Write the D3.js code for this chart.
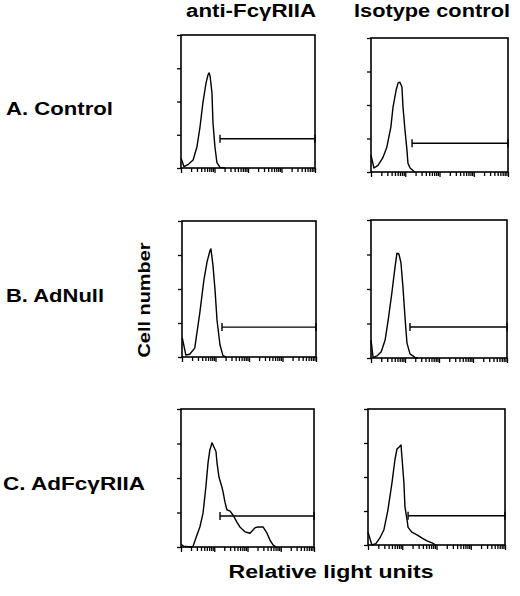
<!DOCTYPE html>
<html>
<head>
<meta charset="utf-8">
<script src="https://cdn.jsdelivr.net/npm/d3@7"></script>
<style>
  html, body { margin: 0; padding: 0; background: #fff; }
  svg { display: block; }
  text { font-family: "Liberation Sans", Arial, sans-serif; font-weight: bold; fill: #000; }
</style>
</head>
<body>
<svg id="chart" width="520" height="596"></svg>
<script>
// ---------------- DATA ----------------
const columnTitles = ["anti-Fc\u03B3RIIA", "Isotype control"];
const rowLabels = ["A. Control", "B. AdNull", "C. AdFc\u03B3RIIA"];
const yAxisTitle = "Cell number";
const xAxisTitle = "Relative light units";
const countTicks = [0, 50, 100, 150, 200];
const rluDomain = [1, 10000];
const countDomain = [0, 200];

// histograms: [relative light units, cell count]
const controlAnti = [[1,15],[1.23,2],[1.6,5],[2.3,12],[3.0,32],[3.7,62],[4.5,98],[5.6,128],[6.4,140],[6.9,143],[7.4,138],[8.4,113],[9.0,68],[10.3,32],[11.8,8],[14.6,1],[20.6,0]];
const controlIso = [[1,25],[1.22,6],[1.6,10],[2.2,21],[2.9,37],[3.8,67],[4.4,97],[5.4,122],[6.2,133],[7.0,134],[8.0,127],[8.6,97],[9.8,63],[11.2,33],[12,13],[13.8,6],[19,0]];
const adNullAnti = [[1.02,28],[1.3,3],[1.7,4],[2.4,13],[3.4,65],[4.5,113],[5.6,140],[6.9,157],[7.3,159],[8.4,135],[9.7,98],[11.1,54],[13.6,18],[16.7,2],[20.6,0]];
const adNullIso = [[1,26],[1.15,1],[1.5,3],[2.0,9],[2.6,26],[3.2,55],[4.1,94],[5.1,132],[5.8,152],[6.6,151],[7.6,138],[8.7,103],[10,59],[11.4,22],[14,6],[19.6,1],[24,0]];
const adFcAnti = [[1,4],[1.2,1],[2.0,0],[2.3,1],[3.0,17],[3.7,29],[4.6,49],[5.6,87],[6.5,122],[7.4,141],[8.6,151],[9.8,145],[11.3,138],[12.1,122],[13.9,101],[17,87],[18.4,80],[21,65],[24,54],[30,52],[37,46],[48,36],[59,29],[84,22],[119,20],[169,28],[208,29],[293,29],[386,20],[475,10],[585,3],[720,0]];
const adFcIso = [[1,19],[1.3,0],[1.7,2],[2.2,10],[2.9,22],[3.8,51],[5.0,91],[6.1,125],[7.0,141],[8.1,144],[9.2,147],[9.8,129],[11.2,91],[12,56],[13.8,37],[14.8,26],[19,19],[27,15],[38,10],[53,6],[74,3],[97,0]];

// gate markers: [start RLU, end RLU, count level]
const gates = [[14.6,10000,44],[15.8,10000,43],[15.6,10000,44],[14,10000,45],[14.9,10000,45],[14.8,10000,43]];

const histograms = [controlAnti, controlIso, adNullAnti, adNullIso, adFcAnti, adFcIso];

// ---------------- LAYOUT ----------------
const panelBoxes = [
  {x:181, y:35,  w:134, h:133},
  {x:371, y:38,  w:137, h:134},
  {x:182, y:221, w:134, h:136},
  {x:371, y:220, w:136, h:138},
  {x:181, y:409, w:133, h:138},
  {x:368, y:409, w:137, h:136}
];

const svg = d3.select("#chart");

// titles
const colCenters = [251, 432];
const colWidths = [130, 156];
columnTitles.forEach((t, i) => {
  svg.append("text").attr("x", colCenters[i]).attr("y", 17)
    .attr("text-anchor", "middle").attr("font-size", 17.5)
    .attr("textLength", colWidths[i]).attr("lengthAdjust", "spacingAndGlyphs").text(t);
});
const rowBaselines = [115, 302, 490];
const rowX = [6, 6, 3];
const rowWidths = [107, 98, 142];
rowLabels.forEach((t, i) => {
  svg.append("text").attr("x", rowX[i]).attr("y", rowBaselines[i])
    .attr("font-size", 17.5)
    .attr("textLength", rowWidths[i]).attr("lengthAdjust", "spacingAndGlyphs").text(t);
});
svg.append("text").attr("transform", "translate(150,300) rotate(-90)")
  .attr("text-anchor", "middle").attr("font-size", 17)
  .attr("textLength", 115).attr("lengthAdjust", "spacingAndGlyphs").text(yAxisTitle);
svg.append("text").attr("x", 331).attr("y", 578)
  .attr("text-anchor", "middle").attr("font-size", 18)
  .attr("textLength", 205).attr("lengthAdjust", "spacingAndGlyphs").text(xAxisTitle);

// panels
histograms.forEach((hist, i) => {
  const b = panelBoxes[i];
  const g = svg.append("g").attr("transform", `translate(${b.x},${b.y})`);
  const x = d3.scaleLog().domain(rluDomain).range([0, b.w]);
  const y = d3.scaleLinear().domain(countDomain).range([b.h, 0]);

  // box
  g.append("rect").attr("x", 0).attr("y", 0).attr("width", b.w).attr("height", b.h)
    .attr("fill", "none").attr("stroke", "#000").attr("stroke-width", 1.6);

  // y axis ticks (no labels)
  const ya = d3.axisLeft(y).tickValues(countTicks).tickSize(4).tickFormat("");
  const yg = g.append("g").call(ya);
  yg.select(".domain").remove();
  yg.selectAll("line").attr("stroke-width", 1.3);

  // x axis log ticks (no labels)
  const xTickVals = x.ticks();
  const xa = d3.axisBottom(x).tickValues(xTickVals).tickSize(4).tickFormat("");
  const xg = g.append("g").attr("transform", `translate(0,${b.h})`).call(xa);
  xg.select(".domain").remove();
  xg.selectAll(".tick line")
    .attr("y2", d => (Math.abs(Math.log10(d) - Math.round(Math.log10(d))) < 1e-9 ? 5 : 4))
    .attr("stroke-width", 1.3);

  // histogram
  const line = d3.line().x(d => x(d[0])).y(d => y(d[1]));
  g.append("path").datum(hist).attr("d", line)
    .attr("fill", "none").attr("stroke", "#000").attr("stroke-width", 1.4)
    .attr("stroke-linejoin", "round");

  // gate
  const gt = gates[i];
  const gx0 = x(gt[0]), gx1 = x(gt[1]), gy = y(gt[2]);
  g.append("line").attr("x1", gx0).attr("x2", gx1).attr("y1", gy).attr("y2", gy)
    .attr("stroke", "#000").attr("stroke-width", 1.4);
  [gx0, gx1].forEach(gx => {
    g.append("line").attr("x1", gx).attr("x2", gx).attr("y1", gy - 4).attr("y2", gy + 4)
      .attr("stroke", "#000").attr("stroke-width", 1.4);
  });
});
</script>
</body>
</html>
